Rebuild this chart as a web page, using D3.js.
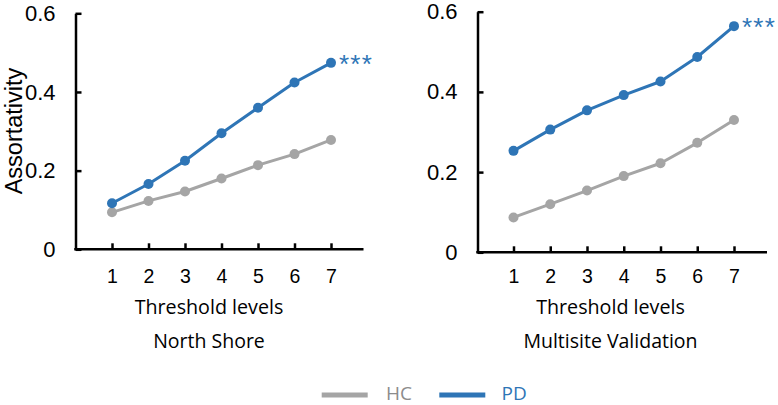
<!DOCTYPE html>
<html>
<head>
<meta charset="utf-8">
<script src="https://cdn.jsdelivr.net/npm/d3@7"></script>
<style>
  html, body { margin: 0; padding: 0; background: #fff; }
  svg { display: block; }
  .num { font-family: "Liberation Sans", Arial, sans-serif; fill: #000; }
  .lab { font-family: "Open Sans", "Noto Sans", sans-serif; fill: #000; }
</style>
</head>
<body>
<svg id="chart" width="778" height="405"></svg>
<script>
// ---- data ----
const levels = [1, 2, 3, 4, 5, 6, 7];
const yTicks = [0, 0.2, 0.4, 0.6];
const yTickLabels = ["0", "0.2", "0.4", "0.6"];
const seriesNames = ["HC", "PD"];
const panelTitles = ["North Shore", "Multisite Validation"];
const xTitle = "Threshold levels";
const yTitle = "Assortativity";
const significance = "***";
const northShoreHC = [0.094, 0.123, 0.147, 0.180, 0.214, 0.242, 0.278];
const northShorePD = [0.117, 0.166, 0.225, 0.295, 0.360, 0.424, 0.474];
const multisiteHC  = [0.087, 0.120, 0.154, 0.190, 0.222, 0.273, 0.330];
const multisitePD  = [0.253, 0.306, 0.354, 0.392, 0.426, 0.487, 0.564];

// ---- style / layout ----
const colors = { HC: "#a5a5a5", PD: "#2e75b6" };
const legendTextColors = { HC: "#8c8c8c", PD: "#2e75b6" };

const panels = [
  { title: panelTitles[0], hc: northShoreHC, pd: northShorePD,
    axisX: 75.5, axisEnd: 363.5, y0: 249.3, yTop: 13.3, x1: 112, x7: 331,
    tickPad: 20, titleX: 209 },
  { title: panelTitles[1], hc: multisiteHC, pd: multisitePD,
    axisX: 477.5, axisEnd: 767, y0: 252.3, yTop: 11.7, x1: 513.5, x7: 734,
    tickPad: 17, titleX: 610.5 }
];

const svg = d3.select("#chart");

panels.forEach((p, pi) => {
  const x = d3.scaleLinear().domain([levels[0], levels[levels.length - 1]]).range([p.x1, p.x7]);
  const y = d3.scaleLinear().domain([0, 0.6]).range([p.y0, p.yTop]);
  const g = svg.append("g");

  // y axis
  const yAxis = d3.axisLeft(y).tickValues(yTicks)
    .tickFormat((d, i) => yTickLabels[i]).tickSizeInner(-6).tickSizeOuter(0).tickPadding(20);
  const ya = g.append("g").attr("transform", `translate(${p.axisX},0)`).call(yAxis);
  ya.selectAll("path.domain").attr("stroke", "#000").attr("stroke-width", 2.5);
  ya.selectAll(".tick line").attr("stroke", "#000").attr("stroke-width", 2.5);
  ya.selectAll(".tick text").attr("class", "num").style("font-size", "22px")
    .style("font-family", '"Liberation Sans", Arial, sans-serif').attr("fill", "#000");

  // x axis
  const xAxis = d3.axisBottom(x).tickValues(levels).tickFormat(d3.format("d"))
    .tickSizeInner(-6).tickSizeOuter(0).tickPadding(p.tickPad);
  const xa = g.append("g").attr("transform", `translate(0,${p.y0})`).call(xAxis);
  xa.select("path.domain").remove();
  xa.selectAll(".tick line").attr("stroke", "#000").attr("stroke-width", 2.5);
  xa.selectAll(".tick text").style("font-size", "19.5px")
    .style("font-family", '"Liberation Sans", Arial, sans-serif').attr("fill", "#000");
  g.append("line").attr("x1", p.axisX - 1.25).attr("x2", p.axisEnd)
    .attr("y1", p.y0).attr("y2", p.y0).attr("stroke", "#000").attr("stroke-width", 2.5);

  // series
  const line = d3.line().x((d, i) => x(levels[i])).y(d => y(d));
  [["HC", p.hc], ["PD", p.pd]].forEach(([name, vals]) => {
    g.append("path").datum(vals).attr("d", line).attr("fill", "none")
      .attr("stroke", colors[name]).attr("stroke-width", 3).attr("stroke-linejoin", "round");
    g.selectAll(null).data(vals).enter().append("circle")
      .attr("cx", (d, i) => x(levels[i])).attr("cy", d => y(d)).attr("r", 5)
      .attr("fill", colors[name]);
  });

  // significance stars
  const last = p.pd[p.pd.length - 1];
  g.append("text").attr("class", "num").attr("x", x(levels[levels.length - 1]) + 8)
    .attr("y", y(last) + 10).style("font-size", "26px").style("letter-spacing", "1.2px")
    .attr("fill", colors.PD).style("fill", colors.PD).text(significance);

  // x title & panel title
  g.append("text").attr("class", "lab").attr("x", p.titleX).attr("y", 314)
    .attr("text-anchor", "middle").style("font-size", "19.7px").text(xTitle);
  g.append("text").attr("class", "lab").attr("x", p.titleX).attr("y", 348.3)
    .attr("text-anchor", "middle").style("font-size", "19.5px").text(p.title);
});

// y title
svg.append("text").attr("class", "num")
  .attr("transform", "translate(21.5,131) rotate(-90)")
  .attr("text-anchor", "middle").style("font-size", "23.5px").text(yTitle);

// legend
const legendItems = [
  { name: seriesNames[0], lx: 321.7, tx: 386 },
  { name: seriesNames[1], lx: 439.3, tx: 501.5 }
];
legendItems.forEach(it => {
  svg.append("line").attr("x1", it.lx).attr("x2", it.lx + 46).attr("y1", 395).attr("y2", 395)
    .attr("stroke", colors[it.name]).attr("stroke-width", 5);
  svg.append("text").attr("class", "lab").attr("x", it.tx).attr("y", 400)
    .style("font-size", "19px").style("fill", legendTextColors[it.name]).text(it.name);
});
</script>
</body>
</html>
